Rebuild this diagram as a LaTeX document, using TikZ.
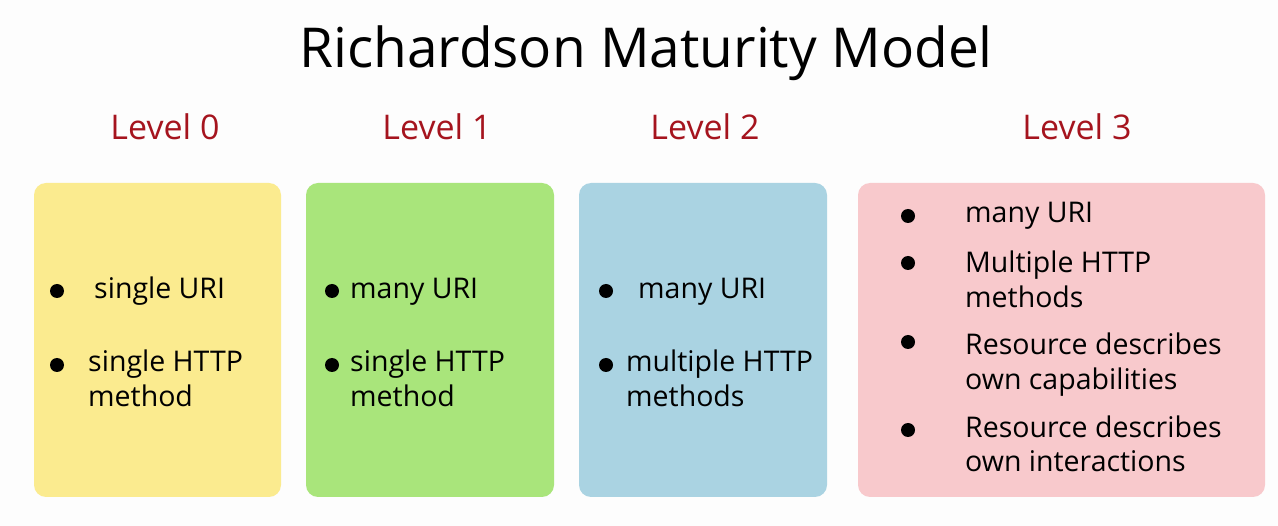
\documentclass[tikz,border=0pt]{standalone}
\usepackage{fontspec}
\setmainfont{Open Sans}
\definecolor{bgc}{HTML}{FDFDFD}
\definecolor{lvl}{HTML}{A5141E}
\definecolor{yel}{HTML}{FBEB8F}
\definecolor{grn}{HTML}{A9E57B}
\definecolor{blu}{HTML}{AAD3E2}
\definecolor{pnk}{HTML}{F8C9CC}
\tikzset{
  card/.style={rounded corners=12pt, draw=none},
  lvltext/.style={text=lvl, font=\fontsize{34}{40}\selectfont, anchor=base, inner sep=0pt},
  itemtext/.style={font=\fontsize{28.5}{35}\selectfont, anchor=base west, inner sep=0pt, align=left},
  dot/.style={circle, fill=black, minimum size=14pt, inner sep=0pt}
}
\begin{document}
\begin{tikzpicture}[x=1pt,y=-1pt]
\fill[bgc] (0,0) rectangle (1278,526);
\useasboundingbox (0,0) rectangle (1278,526);
\node[inner sep=0pt, anchor=base, font=\fontsize{55}{64}\selectfont] (title) at (646,68) {Richardson Maturity Model};
\node[lvltext] (l0) at (165,140) {Level 0};
\node[lvltext] (l1) at (437,140) {Level 1};
\node[lvltext] (l2) at (705,140) {Level 2};
\node[lvltext] (l3) at (1077,140) {Level 3};
\fill[yel, card] (34,183) rectangle (281,497);
\fill[grn, card] (306,183) rectangle (554,497);
\fill[blu, card] (579,183) rectangle (827,497);
\fill[pnk, card] (858,183) rectangle (1265,497);
% box 0
\node[dot] (b01) at (57,291) {};
\node[itemtext] (t01) at (94,299) {single URI};
\node[dot] (b02) at (57,365) {};
\node[itemtext] (t02) at (88,407) {single HTTP\\method};
% box 1
\node[dot] (b11) at (332,291) {};
\node[itemtext] (t11) at (350,299) {many URI};
\node[dot] (b12) at (332,365) {};
\node[itemtext] (t12) at (350,407) {single HTTP\\method};
% box 2
\node[dot] (b21) at (606,291) {};
\node[itemtext] (t21) at (638,299) {many URI};
\node[dot] (b22) at (606,365) {};
\node[itemtext] (t22) at (626,407) {multiple HTTP\\methods};
% box 3
\node[dot] (b31) at (908,216) {};
\node[itemtext] (t31) at (965,223) {many URI};
\node[dot] (b32) at (908,263) {};
\node[itemtext] (t32) at (965,308) {Multiple HTTP\\methods};
\node[dot] (b33) at (908,342) {};
\node[itemtext] (t33) at (965,390) {Resource describes\\own capabilities};
\node[dot] (b34) at (908,430) {};
\node[itemtext] (t34) at (965,472) {Resource describes\\own interactions};
\end{tikzpicture}
\end{document}
